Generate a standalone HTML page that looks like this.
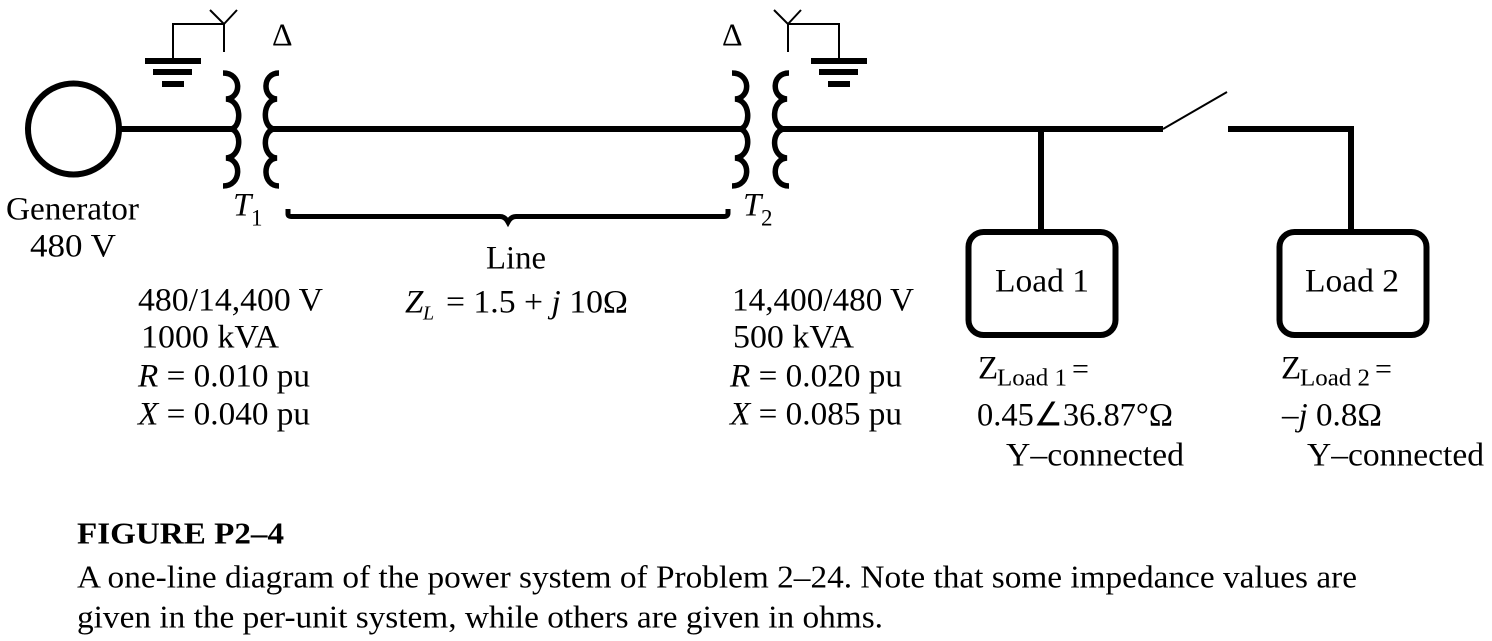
<!DOCTYPE html>
<html><head><meta charset="utf-8"><style>
html,body{margin:0;padding:0;background:#fff;width:1492px;height:641px;overflow:hidden}
svg{display:block;font-family:"Liberation Serif",serif;font-size:33px}
text{fill:#000}
.i{font-style:italic}
.w{fill:none;stroke:#000;stroke-width:6}
.t{fill:none;stroke:#000;stroke-width:2}
.c{fill:none;stroke:#000;stroke-width:5.500}
</style></head><body>
<svg width="1492" height="641" viewBox="0 0 1492 641" xmlns="http://www.w3.org/2000/svg">
<rect width="1492" height="641" fill="#fff"/>
<circle cx="73.500" cy="129" r="45.500" class="w"/>
<path class="w" d="M119 129H234M272 129H742M782 129H1163M1228 129H1351V232M1041 129V232"/>
<path class="t" d="M1163 129L1227 92"/>
<rect x="968.500" y="232" width="147" height="103" rx="15" class="w"/>
<rect x="1279.500" y="232" width="147" height="103" rx="15" class="w"/>
<path class="t" d="M173 58V24H224M224 52V24L210 10M224 24L237 10"/>
<rect x="145" y="58" width="56" height="6"/><rect x="153" y="69" width="39" height="6"/><rect x="162" y="81" width="22" height="6"/>
<path class="t" d="M839 58V24H788M788 52V24L774 10M788 24L801 10"/>
<rect x="811" y="58" width="56" height="6"/><rect x="819" y="69" width="39" height="6"/><rect x="828" y="81" width="22" height="6"/>
<path class="c" d="M223 73C242 73 242 98 226 99C242 100 242 127 231 129C242 131 242 157 226 158C242 159 242 186 223 186"/>
<path class="c" d="M279 73C262 73 262 98 277 99C262 100 262 127 274 129C262 131 262 157 277 158C262 159 262 186 279 186"/>
<path class="c" d="M732 73C751 73 751 98 735 99C751 100 751 127 740 129C751 131 751 157 735 158C751 159 751 186 732 186"/>
<path class="c" d="M789 73C771 73 771 98 787 99C771 100 771 127 784 129C771 131 771 157 787 158C771 159 771 186 789 186"/>
<path fill="none" stroke="#000" stroke-width="5" d="M288 209V214Q288 216.500 291 216.500H500Q505 216.500 508 222Q511 216.500 516 216.500H724Q728 216.500 728 213V209"/>
<g transform="translate(0,1.500)">
<text x="272" y="44" font-size="32">Δ</text>
<text x="722" y="44" font-size="32">Δ</text>
<text x="6" y="218" textLength="133" lengthAdjust="spacingAndGlyphs">Generator</text>
<text x="30" y="255" textLength="86" lengthAdjust="spacingAndGlyphs">480 V</text>
<text x="233" y="214" class="i">T</text><text x="251" y="224" font-size="23">1</text>
<text x="743" y="214" class="i">T</text><text x="761" y="224" font-size="23">2</text>
<text x="486" y="267" textLength="60" lengthAdjust="spacingAndGlyphs">Line</text>
<text x="405" y="311" class="i">Z</text><text x="423" y="318" font-size="20" class="i">L</text>
<text x="446" y="311" textLength="182" lengthAdjust="spacingAndGlyphs">= 1.5 + <tspan class="i">j</tspan> 10Ω</text>
<text x="138" y="309" textLength="185" lengthAdjust="spacingAndGlyphs">480/14,400 V</text>
<text x="141" y="346" textLength="138" lengthAdjust="spacingAndGlyphs">1000 kVA</text>
<text x="138" y="385" textLength="172" lengthAdjust="spacingAndGlyphs"><tspan class="i">R</tspan> = 0.010 pu</text>
<text x="138" y="423" textLength="172" lengthAdjust="spacingAndGlyphs"><tspan class="i">X</tspan> = 0.040 pu</text>
<text x="732" y="309" textLength="182" lengthAdjust="spacingAndGlyphs">14,400/480 V</text>
<text x="733" y="346" textLength="121" lengthAdjust="spacingAndGlyphs">500 kVA</text>
<text x="730" y="385" textLength="172" lengthAdjust="spacingAndGlyphs"><tspan class="i">R</tspan> = 0.020 pu</text>
<text x="730" y="423" textLength="172" lengthAdjust="spacingAndGlyphs"><tspan class="i">X</tspan> = 0.085 pu</text>
<text x="995" y="290" textLength="94" lengthAdjust="spacingAndGlyphs">Load 1</text>
<text x="1305" y="290" textLength="94" lengthAdjust="spacingAndGlyphs">Load 2</text>
<text x="978" y="377">Z</text><text x="997" y="384" font-size="24" textLength="70" lengthAdjust="spacingAndGlyphs">Load 1</text><text x="1072" y="377" font-size="30">=</text>
<text x="1281" y="377">Z</text><text x="1300" y="384" font-size="24" textLength="70" lengthAdjust="spacingAndGlyphs">Load 2</text><text x="1375" y="377" font-size="30">=</text>
<text x="977" y="424" textLength="196" lengthAdjust="spacingAndGlyphs">0.45∠36.87°Ω</text>
<text x="1282" y="424" textLength="100" lengthAdjust="spacingAndGlyphs">–<tspan class="i">j</tspan> 0.8Ω</text>
<text x="1006" y="464" textLength="178" lengthAdjust="spacingAndGlyphs">Y–connected</text>
<text x="1307" y="464" textLength="177" lengthAdjust="spacingAndGlyphs">Y–connected</text>
<text x="77" y="542" font-size="31" font-weight="bold" textLength="207" lengthAdjust="spacingAndGlyphs">FIGURE P2–4</text>
<text x="77" y="586" font-size="32" textLength="1280" lengthAdjust="spacingAndGlyphs">A one-line diagram of the power system of Problem 2–24. Note that some impedance values are</text>
<text x="77" y="626" font-size="32" textLength="806" lengthAdjust="spacingAndGlyphs">given in the per-unit system, while others are given in ohms.</text>
</g>
</svg>
</body></html>
